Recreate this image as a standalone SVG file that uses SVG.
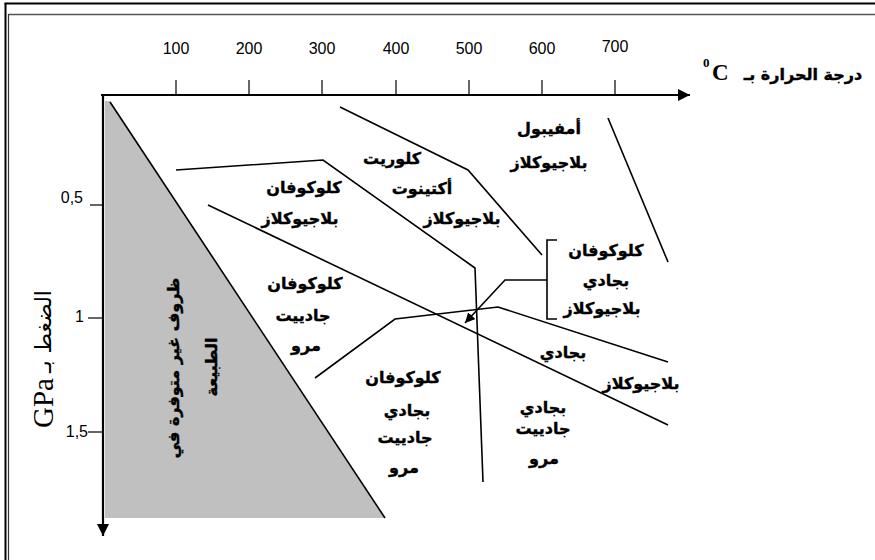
<svg xmlns="http://www.w3.org/2000/svg" width="875" height="560" viewBox="0 0 875 560">
<style>
.ln{fill:none;stroke:#000;stroke-width:1.6}
.ax{fill:none;stroke:#000;stroke-width:2.2}
.tk{fill:none;stroke:#000;stroke-width:1.2}
.num{font-family:"Liberation Sans",Arial,sans-serif;font-size:16px;fill:#000}
.lb{font-family:"DejaVu Sans","Noto Sans",sans-serif;font-weight:bold;font-size:16px;fill:#000;stroke:#000;stroke-width:0.4;text-anchor:middle}
</style>
<defs>
<marker id="ah" viewBox="0 0 10 10" refX="10" refY="5" markerWidth="10" markerHeight="10" markerUnits="userSpaceOnUse" orient="auto">
<path d="M0,0 L10,5 L0,10 z" fill="#000"/>
</marker>
<marker id="ah2" viewBox="0 0 10 10" refX="10" refY="5" markerWidth="14" markerHeight="12" markerUnits="userSpaceOnUse" orient="auto">
<path d="M0,0 L10,5 L0,10 z" fill="#000"/>
</marker>
</defs>
<rect width="875" height="560" fill="#fff"/>
<g id="frame">
<line x1="5.5" y1="3" x2="5.5" y2="560" stroke="#000" stroke-width="2"/>
<line x1="4.5" y1="3.5" x2="875" y2="3.5" stroke="#000" stroke-width="2"/>
<line x1="8.5" y1="14.5" x2="875" y2="14.5" stroke="#555" stroke-width="1.5"/>
<line x1="8.5" y1="14" x2="8.5" y2="560" stroke="#333" stroke-width="1.2"/>
</g>
<g id="forbidden">
<polygon points="105,101 110,101 385,518 105,518" fill="#c0c0c0"/>
<line x1="110" y1="102" x2="385" y2="518" class="ln"/>
<text transform="translate(179,368) rotate(-90)" class="lb" font-size="27">ظروف غير متوفرة في</text>
<text transform="translate(217,367) rotate(-90)" class="lb" font-size="24">الطبيعة</text>
</g>
<g id="axes">
<line x1="101" y1="95" x2="690" y2="95" class="ax" marker-end="url(#ah2)"/>
<line x1="103" y1="94" x2="103" y2="536" class="ax" marker-end="url(#ah2)"/>
<g class="tk">
<line x1="176" y1="80" x2="176" y2="95"/>
<line x1="249" y1="80" x2="249" y2="95"/>
<line x1="322" y1="80" x2="322" y2="95"/>
<line x1="396" y1="80" x2="396" y2="95"/>
<line x1="469" y1="80" x2="469" y2="95"/>
<line x1="542" y1="80" x2="542" y2="95"/>
<line x1="615" y1="80" x2="615" y2="95"/>
<line x1="90" y1="205" x2="103" y2="205"/>
<line x1="88" y1="318" x2="103" y2="318"/>
<line x1="88" y1="432" x2="103" y2="432"/>
</g>
<g class="num" text-anchor="middle">
<text x="176" y="54">100</text>
<text x="249" y="54">200</text>
<text x="322" y="54">300</text>
<text x="396" y="54">400</text>
<text x="469" y="54">500</text>
<text x="542" y="54">600</text>
<text x="615" y="52">700</text>
</g>
<g class="num" text-anchor="end">
<text x="83" y="203">0,5</text>
<text x="84" y="322">1</text>
<text x="88" y="437">1,5</text>
</g>
<g id="xtitle">
<text x="703" y="67" font-family="'Liberation Serif',serif" font-weight="bold" font-size="13">0</text>
<text x="712" y="80" font-family="'Liberation Serif',serif" font-weight="bold" font-size="23">C</text>
<text x="803" y="80" class="lb" font-size="23">درجة الحرارة بـ</text>
</g>
<g id="ytitle" transform="translate(53,428) rotate(-90)">
<text x="0" y="0" font-family="'Liberation Serif',serif" font-size="29">GPa</text>
<text x="55" y="-2" font-family="'DejaVu Sans',sans-serif" font-size="22" direction="rtl" unicode-bidi="embed" text-anchor="end">الضغط بـ</text>
</g>
</g>
<g id="connectors">
<polyline class="ln" points="340,107 468,170 542,255"/>
<polyline class="ln" points="176,170 323,160 475,268 483,482"/>
<line class="ln" x1="208" y1="205" x2="668" y2="425"/>
<polyline class="ln" points="315,378 395,319 498,307 668,362"/>
<line class="ln" x1="608" y1="118" x2="668" y2="262"/>
<polyline class="ln" points="557,240 547,240 547,319 557,319"/>
<polyline class="ln" points="547,280 505,280 465,323" marker-end="url(#ah)"/>
</g>
<g id="amphibole"><text x="549" y="134" class="lb">أمفيبول</text><text x="549" y="168" class="lb">بلاجيوكلاز</text></g>
<g id="chlorite"><text x="392" y="164" class="lb">كلوريت</text><text x="422" y="194" class="lb">أكتينوت</text><text x="462" y="224" class="lb">بلاجيوكلاز</text></g>
<g id="glauco-plag"><text x="304" y="193" class="lb">كلوكوفان</text><text x="300" y="224" class="lb">بلاجيوكلاز</text></g>
<g id="glauco-jad"><text x="305" y="289" class="lb">كلوكوفان</text><text x="303" y="321" class="lb">جادييت</text><text x="306" y="351" class="lb">مرو</text></g>
<g id="glauco-pyx-jad"><text x="403" y="383" class="lb">كلوكوفان</text><text x="407" y="416" class="lb">بجادي</text><text x="405" y="443" class="lb">جادييت</text><text x="404" y="473" class="lb">مرو</text></g>
<g id="pyx-jad"><text x="543" y="413" class="lb">بجادي</text><text x="543" y="434" class="lb">جادييت</text><text x="544" y="464" class="lb">مرو</text></g>
<g id="pyx-plag"><text x="563" y="358" class="lb">بجادي</text><text x="641" y="389" class="lb">بلاجيوكلاز</text></g>
<g id="glauco-pyx-plag"><text x="606" y="256" class="lb">كلوكوفان</text><text x="606" y="286" class="lb">بجادي</text><text x="602" y="314" class="lb">بلاجيوكلاز</text></g>
</svg>
